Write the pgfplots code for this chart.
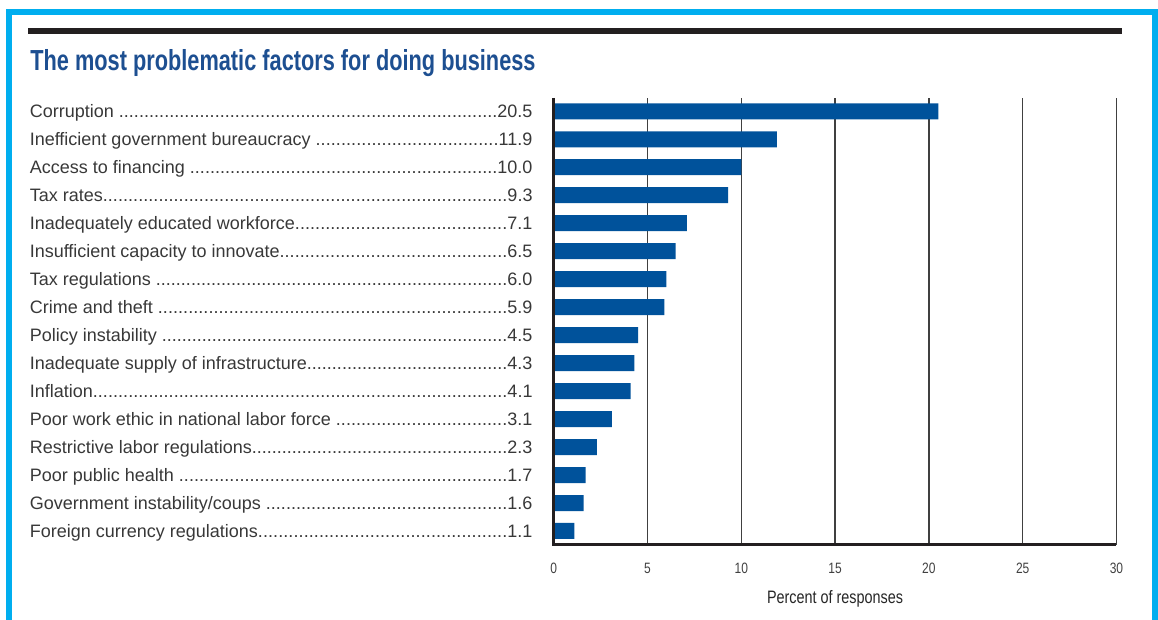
\documentclass[border=0pt]{standalone}
\usepackage{fontspec}
\setmainfont{Liberation Sans}
\newfontfamily\condfont[FakeStretch=0.8]{Liberation Sans}
\newfontfamily\titlefont[FakeStretch=0.75]{Liberation Sans Bold}
\usepackage{pgfplots}
\pgfplotsset{compat=1.18}
\definecolor{framecyan}{HTML}{00AEEF}
\definecolor{barblue}{HTML}{00529B}
\definecolor{titleblue}{HTML}{1D4F91}
\definecolor{rulegray}{HTML}{231F20}
% label with dot leader and value
\newcommand{\lab}[2]{\makebox[251.25pt][l]{#1\xleaders\hbox{.}\hfill#2}}

\begin{document}
\begin{tikzpicture}
\begin{scope}[x=0.5pt,y=-0.5pt]
  \useasboundingbox (0,0) rectangle (1158,620);
  \draw[framecyan, line width=3pt, line join=miter] (9,630) -- (9,12) -- (1155,12) -- (1155,630);
  \fill[rulegray] (28,28) rectangle (1122,34);
  \node[anchor=base west, inner sep=0pt, text=titleblue,
        font=\titlefont\fontsize{14.5}{16}\selectfont] at (30,71)
        {The most problematic factors for doing business};
\end{scope}

\begin{axis}[
    at={(276.85pt,-272.35pt)}, anchor=south west,
    scale only axis, width=281.4pt, height=223.35pt,
    xmin=0, xmax=30, ymin=-0.49, ymax=15.475,
    xtick={0,5,...,30}, ytick={0,...,15},
    yticklabels={
      {\lab{Foreign currency regulations}{1.1}},
      {\lab{Government instability/coups }{1.6}},
      {\lab{Poor public health }{1.7}},
      {\lab{Restrictive labor regulations}{2.3}},
      {\lab{Poor work ethic in national labor force }{3.1}},
      {\lab{Inflation}{4.1}},
      {\lab{Inadequate supply of infrastructure}{4.3}},
      {\lab{Policy instability }{4.5}},
      {\lab{Crime and theft }{5.9}},
      {\lab{Tax regulations }{6.0}},
      {\lab{Insufficient capacity to innovate}{6.5}},
      {\lab{Inadequately educated workforce}{7.1}},
      {\lab{Tax rates}{9.3}},
      {\lab{Access to financing }{10.0}},
      {\lab{Inefficient government bureaucracy }{11.9}},
      {\lab{Corruption }{20.5}}},
    axis line style={draw=none},
    major tick length=0pt,
    xmajorgrids, grid style={black!75, line width=0.7pt},
    xbar, bar width=8pt,
    /pgf/number format/assume math mode=true,
    xticklabel style={font=\condfont\fontsize{7.5}{8}\selectfont, text=black!75,
        anchor=north, inner sep=0pt, yshift=-9pt},
    yticklabel style={font=\fontsize{9}{10}\selectfont, text=black!78,
        anchor=base east, inner sep=0pt, xshift=-10.5pt, yshift=-3.2pt},
    xlabel={Percent of responses},
    xlabel style={font=\condfont\fontsize{9}{10}\selectfont, text=black!85,
        at={(axis description cs:0.5,0)}, anchor=center, yshift=-27.2pt},
    clip=false,
]
\addplot[fill=barblue, draw=none] coordinates {
  (1.1,0) (1.6,1) (1.7,2) (2.3,3) (3.1,4) (4.1,5) (4.3,6) (4.5,7)
  (5.9,8) (6.0,9) (6.5,10) (7.1,11) (9.3,12) (10.0,13) (11.9,14) (20.5,15)
};
% axis lines over the bars
\draw[rulegray, line width=1.4pt] (rel axis cs:0,1) -- (rel axis cs:0,0) -- (rel axis cs:1,0);
\end{axis}
\end{tikzpicture}
\end{document}
